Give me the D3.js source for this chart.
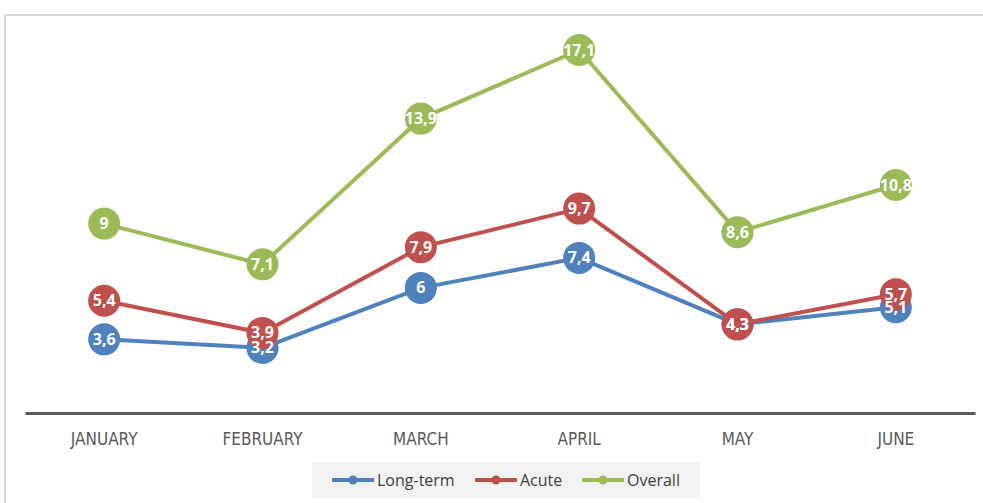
<!DOCTYPE html>
<html>
<head>
<meta charset="utf-8">
<script src="https://cdn.jsdelivr.net/npm/d3@7"></script>
<style>
  body { margin: 0; background: #fff; }
  svg { display: block; }
</style>
</head>
<body>
<svg id="chart" width="983" height="503"></svg>
<script>
const months = ["JANUARY", "FEBRUARY", "MARCH", "APRIL", "MAY", "JUNE"];
const longTerm = [3.6, 3.2, 6, 7.4, 4.3, 5.1];
const acute = [5.4, 3.9, 7.9, 9.7, 4.3, 5.7];
const overall = [9, 7.1, 13.9, 17.1, 8.6, 10.8];
const seriesNames = ["Long-term", "Acute", "Overall"];
const seriesColors = ["#4F81BD", "#C0504D", "#9BBB59"];

const series = [longTerm, acute, overall].map((values, i) => ({
  name: seriesNames[i],
  color: seriesColors[i],
  values: values
}));

const svg = d3.select("#chart");

// frame of the chart area
svg.append("path")
    .attr("d", "M5,503V15H983")
    .attr("fill", "none")
    .attr("stroke", "#d9d9d9")
    .attr("stroke-width", 2);

const x = d3.scaleBand()
    .domain(months)
    .range([25, 975]);

const y = d3.scaleLinear()
    .domain([0, 17.1])
    .range([416.5, 50]);

const cx = (d, i) => x(months[i]) + x.bandwidth() / 2;
const fmt = v => String(v).replace(".", ",");

// category axis
const axis = svg.append("g")
    .attr("transform", "translate(0,413)")
    .call(d3.axisBottom(x).tickSize(0).tickPadding(20));
axis.select(".domain")
    .attr("stroke", "#595959")
    .attr("stroke-width", 3);
axis.selectAll("text")
    .attr("font-family", "'Liberation Sans Narrow', 'DejaVu Sans Condensed', sans-serif")
    .attr("font-size", 17)
    .attr("fill", "#595959");

const line = d3.line()
    .x(cx)
    .y(d => y(d));

const marks = svg.append("g");
const labels = svg.append("g");

series.forEach(s => {
  const g = marks.append("g");
  g.append("path")
      .attr("d", line(s.values))
      .attr("fill", "none")
      .attr("stroke", s.color)
      .attr("stroke-width", 4)
      .attr("stroke-linejoin", "round");

  g.selectAll("circle")
    .data(s.values)
    .join("circle")
      .attr("cx", cx)
      .attr("cy", d => y(d))
      .attr("r", 16)
      .attr("fill", s.color);

  // data labels sit above every marker
  labels.append("g").selectAll("text")
    .data(s.values)
    .join("text")
      .attr("x", cx)
      .attr("y", d => y(d) + 5.5)
      .attr("text-anchor", "middle")
      .attr("font-family", "'Open Sans', sans-serif")
      .attr("font-weight", "bold")
      .attr("font-size", 16)
      .attr("fill", "#fff")
      .text(fmt);
});

// legend
const legend = svg.append("g");
legend.append("rect")
    .attr("x", 312)
    .attr("y", 462)
    .attr("width", 388)
    .attr("height", 36)
    .attr("fill", "#f2f2f2");

const legendX = [332, 475, 582];
series.forEach((s, i) => {
  const lg = legend.append("g")
      .attr("transform", `translate(${legendX[i]},480)`);
  lg.append("line")
      .attr("x1", 0)
      .attr("x2", 42)
      .attr("stroke", s.color)
      .attr("stroke-width", 4);
  lg.append("circle")
      .attr("cx", 21)
      .attr("r", 4.5)
      .attr("fill", s.color);
  lg.append("text")
      .attr("x", 45)
      .attr("y", 6)
      .attr("font-family", "'Open Sans', sans-serif")
      .attr("font-size", 16)
      .attr("fill", "#404040")
      .text(s.name);
});
</script>
</body>
</html>
